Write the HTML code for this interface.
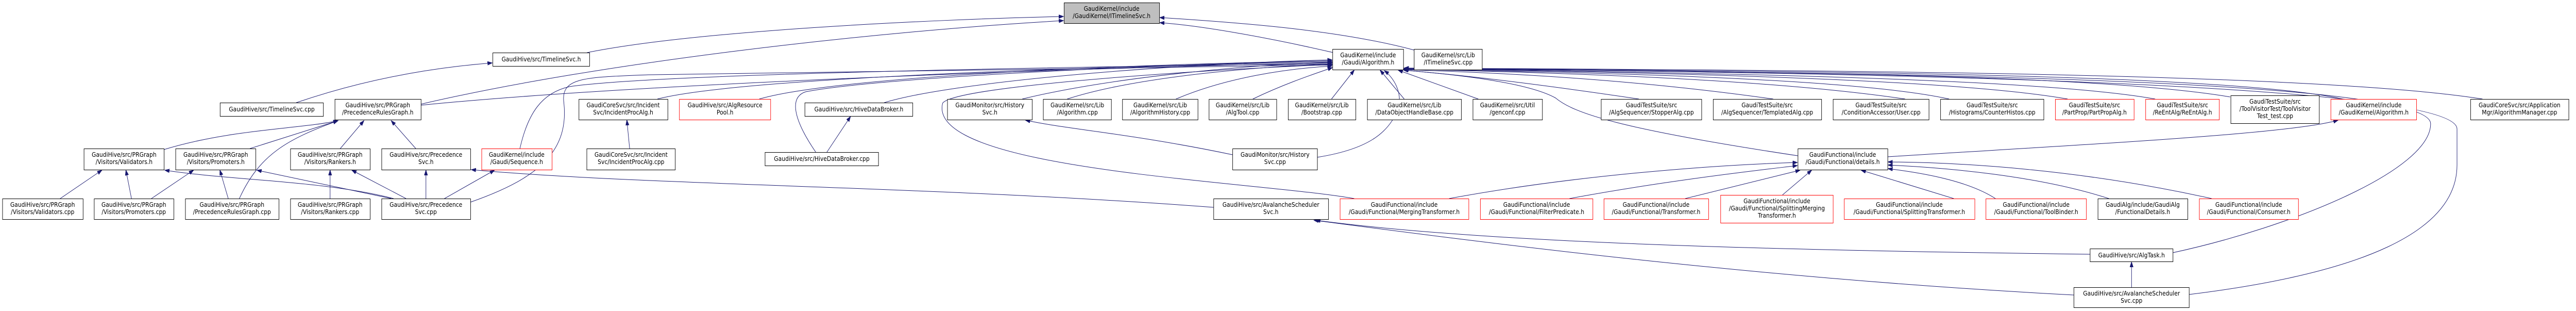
<!DOCTYPE html>
<html><head><meta charset="utf-8"><style>
html,body{margin:0;padding:0;background:#fff;width:100%;height:100%;overflow:hidden;}
svg{display:block;width:100vw;height:100vh;}
text{font-family:"DejaVu Sans","Liberation Sans",sans-serif;font-size:12px;fill:#000;text-anchor:middle;}
.n{fill:#fff;stroke:#000;stroke-width:1;}
.r{fill:#fff;stroke:#ff0000;stroke-width:1;}
.g{fill:#bfbfbf;stroke:#000;stroke-width:1;}
.e{fill:none;stroke:#191970;stroke-width:1;marker-end:url(#a);}
</style></head><body>
<svg viewBox="0 0 5564 603" preserveAspectRatio="none" xmlns="http://www.w3.org/2000/svg" overflow="hidden">
<defs><marker id="a" markerUnits="userSpaceOnUse" markerWidth="11" markerHeight="8" refX="10" refY="3.5" orient="auto"><path d="M0,0 L10,3.5 L0,7 z" fill="#191970" stroke="#191970"/></marker></defs>
<g>
<path class="e" d="M1268,102 C1500,60 2000,38 2297,32"/>
<path class="e" d="M909,202 C1300,120 1900,60 2297,40"/>
<path class="e" d="M3054,97 C2900,60 2700,45 2505,34"/>
<path class="e" d="M2880,102 C2750,75 2600,50 2505,44"/>
<path class="e" d="M640,199 C800,150 950,130 1063,122"/>
<path class="e" d="M909,204 C1400,160 2400,130 2877,122"/>
<path class="e" d="M354,290 C500,250 650,250 730,234"/>
<path class="e" d="M540,288 L730,234"/>
<path class="e" d="M517,385 C560,300 620,270 730,234"/>
<path class="e" d="M735,288 L786,234"/>
<path class="e" d="M898,288 L845,234"/>
<path class="e" d="M130,385 L220,330"/>
<path class="e" d="M284,385 L272,330"/>
<path class="e" d="M850,385 C700,350 500,350 356,330"/>
<path class="e" d="M327,385 L418,330"/>
<path class="e" d="M493,385 L475,330"/>
<path class="e" d="M845,385 L555,330"/>
<path class="e" d="M713,385 L713,330"/>
<path class="e" d="M877,385 L760,330"/>
<path class="e" d="M920,385 L920,330"/>
<path class="e" d="M960,385 L1068,330"/>
<path class="e" d="M2621,402 C2000,360 1400,360 1018,329"/>
<path class="e" d="M1016,392 C1150,350 1230,300 1218,200 C1210,150 1260,150 1400,145 L2877,126"/>
<path class="e" d="M1123,288 C1140,220 1170,180 1230,168 C1400,145 2200,130 2877,124"/>
<path class="e" d="M1360,288 L1354,233"/>
<path class="e" d="M1420,192 C1600,150 2400,128 2877,120"/>
<path class="e" d="M1640,192 C1800,150 2400,125 2877,118"/>
<path class="e" d="M1910,199 C2050,160 2500,125 2877,116"/>
<path class="e" d="M1786,295 L1837,226"/>
<path class="e" d="M1762,295 C1720,240 1700,190 1740,178 C1900,150 2500,125 2877,118"/>
<path class="e" d="M2208,192 C2400,150 2700,125 2877,121"/>
<path class="e" d="M2662,300 C2450,260 2300,250 2215,233"/>
<path class="e" d="M2845,305 C2950,290 3000,260 3020,210 C3030,180 3010,150 2990,137"/>
<path class="e" d="M2925,385 C2700,350 2000,330 2036,200 C2060,170 2500,140 2877,125"/>
<path class="e" d="M2305,192 C2450,150 2700,130 2877,124"/>
<path class="e" d="M2540,192 C2650,150 2780,133 2877,128"/>
<path class="e" d="M2706,192 C2780,160 2850,140 2878,131"/>
<path class="e" d="M2876,192 L2925,136"/>
<path class="e" d="M3033,192 L2981,136"/>
<path class="e" d="M3193,192 L3020,136"/>
<path class="e" d="M3540,192 C3300,160 3150,145 3032,136"/>
<path class="e" d="M3830,192 C3500,150 3200,140 3032,135"/>
<path class="e" d="M4115,192 C3800,150 3300,140 3032,134"/>
<path class="e" d="M4210,192 C4000,150 3400,140 3033,134"/>
<path class="e" d="M4466,192 C4200,150 3500,140 3033,133"/>
<path class="e" d="M4655,192 C4400,150 3600,140 3033,133"/>
<path class="e" d="M4817,188 C4500,140 3700,140 3033,132"/>
<path class="e" d="M5060,192 C4800,140 3800,138 3033,132"/>
<path class="e" d="M5362,192 C5000,140 3900,136 3033,132"/>
<path class="e" d="M4693,490 C4950,440 5250,330 5250,240 C5250,150 4000,140 3033,133"/>
<path class="e" d="M4728,571 C5100,530 5307,450 5307,320 L5307,250 C5307,160 4000,140 3033,133"/>
<path class="e" d="M3883,302 C3500,250 3400,220 3360,190 C3300,160 3150,145 3032,136"/>
<path class="e" d="M4077,304 C4500,280 4950,260 5050,233"/>
<path class="e" d="M3130,385 C3400,340 3700,320 3882,315"/>
<path class="e" d="M3390,385 C3600,350 3800,330 3882,321"/>
<path class="e" d="M3640,385 L3888,330"/>
<path class="e" d="M3850,378 L3913,330"/>
<path class="e" d="M4220,385 L4020,330"/>
<path class="e" d="M4310,385 C4250,350 4150,335 4078,327"/>
<path class="e" d="M4555,385 C4400,340 4200,325 4078,320"/>
<path class="e" d="M4777,385 C4500,330 4250,315 4078,314"/>
<path class="e" d="M4604,557 L4604,508"/>
<path class="e" d="M4514,493 C3800,485 3200,470 2842,427"/>
<path class="e" d="M4479,572 C3800,540 3200,470 2838,427"/>
</g>
<g>
<rect class="g" x="2298.5" y="5.5" width="206" height="40"/><text x="2401" y="21">GaudiKernel/include</text><text x="2401" y="35">/GaudiKernel/ITimelineSvc.h</text>
<rect class="n" x="1064.5" y="102.5" width="209" height="26"/><text x="1169" y="119">GaudiHive/src/TimelineSvc.h</text>
<rect class="n" x="475.5" y="199.5" width="223" height="26"/><text x="587" y="216">GaudiHive/src/TimelineSvc.cpp</text>
<rect class="n" x="723.5" y="192.5" width="186" height="40"/><text x="816" y="208">GaudiHive/src/PRGraph</text><text x="816" y="222">/PrecedenceRulesGraph.h</text>
<rect class="n" x="181.5" y="288.5" width="173" height="41"/><text x="268" y="304">GaudiHive/src/PRGraph</text><text x="268" y="318">/Visitors/Validators.h</text>
<rect class="n" x="379.5" y="288.5" width="173" height="41"/><text x="466" y="304">GaudiHive/src/PRGraph</text><text x="466" y="318">/Visitors/Promoters.h</text>
<rect class="n" x="627.5" y="288.5" width="172" height="41"/><text x="713" y="304">GaudiHive/src/PRGraph</text><text x="713" y="318">/Visitors/Rankers.h</text>
<rect class="n" x="824.5" y="288.5" width="192" height="41"/><text x="920" y="304">GaudiHive/src/Precedence</text><text x="920" y="318">Svc.h</text>
<rect class="r" x="1040.5" y="288.5" width="152" height="41"/><text x="1116" y="304">GaudiKernel/include</text><text x="1116" y="318">/Gaudi/Sequence.h</text>
<rect class="n" x="1250.5" y="192.5" width="192" height="40"/><text x="1346" y="208">GaudiCoreSvc/src/Incident</text><text x="1346" y="222">Svc/IncidentProcAlg.h</text>
<rect class="n" x="1267.5" y="288.5" width="191" height="41"/><text x="1363" y="304">GaudiCoreSvc/src/Incident</text><text x="1363" y="318">Svc/IncidentProcAlg.cpp</text>
<rect class="n" x="5.5" y="385.5" width="174" height="40"/><text x="92" y="401">GaudiHive/src/PRGraph</text><text x="92" y="415">/Visitors/Validators.cpp</text>
<rect class="n" x="203.5" y="385.5" width="172" height="40"/><text x="289" y="401">GaudiHive/src/PRGraph</text><text x="289" y="415">/Visitors/Promoters.cpp</text>
<rect class="n" x="400.5" y="385.5" width="202" height="40"/><text x="501" y="401">GaudiHive/src/PRGraph</text><text x="501" y="415">/PrecedenceRulesGraph.cpp</text>
<rect class="n" x="627.5" y="385.5" width="172" height="40"/><text x="713" y="401">GaudiHive/src/PRGraph</text><text x="713" y="415">/Visitors/Rankers.cpp</text>
<rect class="n" x="824.5" y="385.5" width="192" height="40"/><text x="920" y="401">GaudiHive/src/Precedence</text><text x="920" y="415">Svc.cpp</text>
<rect class="r" x="1467.5" y="192.5" width="197" height="40"/><text x="1566" y="208">GaudiHive/src/AlgResource</text><text x="1566" y="222">Pool.h</text>
<rect class="n" x="1738.5" y="199.5" width="233" height="26"/><text x="1855" y="216">GaudiHive/src/HiveDataBroker.h</text>
<rect class="n" x="1652.5" y="295.5" width="245" height="26"/><text x="1775" y="312">GaudiHive/src/HiveDataBroker.cpp</text>
<rect class="n" x="2046.5" y="192.5" width="183" height="40"/><text x="2138" y="208">GaudiMonitor/src/History</text><text x="2138" y="222">Svc.h</text>
<rect class="n" x="2253.5" y="192.5" width="147" height="40"/><text x="2327" y="208">GaudiKernel/src/Lib</text><text x="2327" y="222">/Algorithm.cpp</text>
<rect class="n" x="2424.5" y="192.5" width="163" height="40"/><text x="2506" y="208">GaudiKernel/src/Lib</text><text x="2506" y="222">/AlgorithmHistory.cpp</text>
<rect class="n" x="2611.5" y="192.5" width="146" height="40"/><text x="2684" y="208">GaudiKernel/src/Lib</text><text x="2684" y="222">/AlgTool.cpp</text>
<rect class="n" x="2782.5" y="192.5" width="146" height="40"/><text x="2855" y="208">GaudiKernel/src/Lib</text><text x="2855" y="222">/Bootstrap.cpp</text>
<rect class="n" x="2662.5" y="288.5" width="183" height="41"/><text x="2754" y="304">GaudiMonitor/src/History</text><text x="2754" y="318">Svc.cpp</text>
<rect class="n" x="2621.5" y="385.5" width="248" height="40"/><text x="2745" y="401">GaudiHive/src/AvalancheScheduler</text><text x="2745" y="415">Svc.h</text>
<rect class="n" x="2878.5" y="95.5" width="153" height="40"/><text x="2955" y="111">GaudiKernel/include</text><text x="2955" y="125">/Gaudi/Algorithm.h</text>
<rect class="n" x="3054.5" y="95.5" width="147" height="40"/><text x="3128" y="111">GaudiKernel/src/Lib</text><text x="3128" y="125">/ITimelineSvc.cpp</text>
<rect class="n" x="2953.5" y="192.5" width="203" height="40"/><text x="3055" y="208">GaudiKernel/src/Lib</text><text x="3055" y="222">/DataObjectHandleBase.cpp</text>
<rect class="n" x="3181.5" y="192.5" width="150" height="40"/><text x="3256" y="208">GaudiKernel/src/Util</text><text x="3256" y="222">/genconf.cpp</text>
<rect class="n" x="3458.5" y="192.5" width="217" height="40"/><text x="3567" y="208">GaudiTestSuite/src</text><text x="3567" y="222">/AlgSequencer/StopperAlg.cpp</text>
<rect class="n" x="3700.5" y="192.5" width="234" height="40"/><text x="3817" y="208">GaudiTestSuite/src</text><text x="3817" y="222">/AlgSequencer/TemplatedAlg.cpp</text>
<rect class="n" x="3959.5" y="192.5" width="207" height="40"/><text x="4063" y="208">GaudiTestSuite/src</text><text x="4063" y="222">/ConditionAccessor/User.cpp</text>
<rect class="n" x="4191.5" y="192.5" width="223" height="40"/><text x="4303" y="208">GaudiTestSuite/src</text><text x="4303" y="222">/Histograms/CounterHistos.cpp</text>
<rect class="r" x="4439.5" y="192.5" width="170" height="40"/><text x="4524" y="208">GaudiTestSuite/src</text><text x="4524" y="222">/PartProp/PartPropAlg.h</text>
<rect class="r" x="4634.5" y="192.5" width="159" height="40"/><text x="4714" y="208">GaudiTestSuite/src</text><text x="4714" y="222">/ReEntAlg/ReEntAlg.h</text>
<rect class="n" x="4818.5" y="185.5" width="191" height="54"/><text x="4914" y="201">GaudiTestSuite/src</text><text x="4914" y="215">/ToolVisitorTest/ToolVisitor</text><text x="4914" y="229">Test_test.cpp</text>
<rect class="r" x="5034.5" y="192.5" width="185" height="40"/><text x="5127" y="208">GaudiKernel/include</text><text x="5127" y="222">/GaudiKernel/Algorithm.h</text>
<rect class="n" x="5336.5" y="192.5" width="212" height="40"/><text x="5442" y="208">GaudiCoreSvc/src/Application</text><text x="5442" y="222">Mgr/AlgorithmManager.cpp</text>
<rect class="n" x="3883.5" y="288.5" width="194" height="41"/><text x="3980" y="304">GaudiFunctional/include</text><text x="3980" y="318">/Gaudi/Functional/details.h</text>
<rect class="r" x="2894.5" y="385.5" width="278" height="40"/><text x="3033" y="401">GaudiFunctional/include</text><text x="3033" y="415">/Gaudi/Functional/MergingTransformer.h</text>
<rect class="r" x="3197.5" y="385.5" width="243" height="40"/><text x="3319" y="401">GaudiFunctional/include</text><text x="3319" y="415">/Gaudi/Functional/FilterPredicate.h</text>
<rect class="r" x="3464.5" y="385.5" width="226" height="40"/><text x="3577" y="401">GaudiFunctional/include</text><text x="3577" y="415">/Gaudi/Functional/Transformer.h</text>
<rect class="r" x="3716.5" y="378.5" width="243" height="54"/><text x="3838" y="394">GaudiFunctional/include</text><text x="3838" y="408">/Gaudi/Functional/SplittingMerging</text><text x="3838" y="422">Transformer.h</text>
<rect class="r" x="3983.5" y="385.5" width="282" height="40"/><text x="4124" y="401">GaudiFunctional/include</text><text x="4124" y="415">/Gaudi/Functional/SplittingTransformer.h</text>
<rect class="r" x="4289.5" y="385.5" width="217" height="40"/><text x="4398" y="401">GaudiFunctional/include</text><text x="4398" y="415">/Gaudi/Functional/ToolBinder.h</text>
<rect class="n" x="4531.5" y="385.5" width="194" height="40"/><text x="4628" y="401">GaudiAlg/include/GaudiAlg</text><text x="4628" y="415">/FunctionalDetails.h</text>
<rect class="r" x="4750.5" y="385.5" width="214" height="40"/><text x="4857" y="401">GaudiFunctional/include</text><text x="4857" y="415">/Gaudi/Functional/Consumer.h</text>
<rect class="n" x="4514.5" y="482.5" width="179" height="25"/><text x="4604" y="499">GaudiHive/src/AlgTask.h</text>
<rect class="n" x="4479.5" y="557.5" width="249" height="39"/><text x="4604" y="573">GaudiHive/src/AvalancheScheduler</text><text x="4604" y="587">Svc.cpp</text>
</g>
</svg>
</body></html>
